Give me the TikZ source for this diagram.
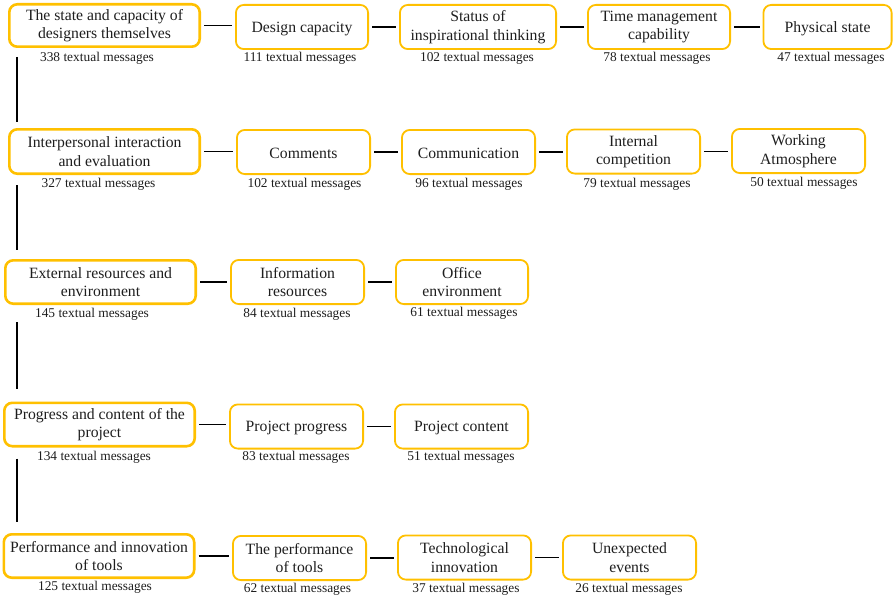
\documentclass[tikz,border=0pt]{standalone}
\usepackage{fontspec}
\setmainfont{Liberation Serif}
\usetikzlibrary{calc}
\definecolor{boxc}{RGB}{255,192,0}
\definecolor{inkc}{RGB}{30,30,30}
\begin{document}
\begin{tikzpicture}[x=1pt,y=-1pt,
  every node/.style={text=inkc},
  box/.style={draw=boxc, rounded corners=8pt, align=center, inner sep=0pt,
    font=\fontsize{15.7}{18.5}\selectfont,
    execute at begin node={\rule{0pt}{13.6pt}}},
  mainbox/.style={box, line width=2.6pt},
  subbox/.style={box, line width=1.8pt},
  cnt/.style={font=\fontsize{13.4}{15}\selectfont, inner sep=0pt},
  hline/.style={draw=black, line width=1.8pt, shorten <=3pt, shorten >=3pt},
  vline/.style={draw=black, line width=2.6pt}]
\useasboundingbox (0,0) rectangle (893,599);
\coordinate (vx) at (17,0);

% ---- Row 1
\node[mainbox, minimum width=190.4pt, minimum height=42.4pt] (M1) at (104.5,25.5) {The state and capacity of\\designers themselves};
\node[subbox, minimum width=132.2pt, minimum height=44.2pt] (A1) at (302,27) {Design capacity};
\node[subbox, minimum width=156.2pt, minimum height=44.2pt] (A2) at (478,27) {Status of\\inspirational thinking};
\node[subbox, minimum width=142.2pt, minimum height=44.2pt] (A3) at (659,27) {Time management\\capability};
\node[subbox, minimum width=128.2pt, minimum height=44.2pt] (A4) at (827.5,27) {Physical state};
\node[cnt] (cM1) at (97,58) {338 textual messages};
\node[cnt] (cA1) at (300,58) {111 textual messages};
\node[cnt] (cA2) at (477,58) {102 textual messages};
\node[cnt] (cA3) at (657,58) {78 textual messages};
\node[cnt] (cA4) at (831,58) {47 textual messages};

% ---- Row 2
\node[mainbox, minimum width=190.4pt, minimum height=44.4pt] (M2) at (104.5,151.5) {Interpersonal interaction\\and evaluation};
\node[subbox, minimum width=133.2pt, minimum height=44.2pt] (B1) at (303.5,152) {Comments};
\node[subbox, minimum width=133.2pt, minimum height=44.2pt] (B2) at (468.5,152) {Communication};
\node[subbox, minimum width=133.2pt, minimum height=44.2pt] (B3) at (633.5,151.5) {Internal\\competition};
\node[subbox, minimum width=133.2pt, minimum height=44.2pt] (B4) at (798.5,151) {Working\\Atmosphere};
\node[cnt] (cM2) at (98.5,184.5) {327 textual messages};
\node[cnt] (cB1) at (304.5,184.5) {102 textual messages};
\node[cnt] (cB2) at (469,184) {96 textual messages};
\node[cnt] (cB3) at (637,184) {79 textual messages};
\node[cnt] (cB4) at (804,183) {50 textual messages};

% ---- Row 3
\node[mainbox, minimum width=190.4pt, minimum height=43.4pt] (M3) at (100.5,282) {External resources and\\environment};
\node[subbox, minimum width=133.2pt, minimum height=44.2pt] (C1) at (297.5,282) {Information\\resources};
\node[subbox, minimum width=132.2pt, minimum height=44.2pt] (C2) at (462,282) {Office\\environment};
\node[cnt] (cM3) at (92,314.5) {145 textual messages};
\node[cnt] (cC1) at (297,314.5) {84 textual messages};
\node[cnt] (cC2) at (464,313.5) {61 textual messages};

% ---- Row 4
\node[mainbox, minimum width=190.4pt, minimum height=43.4pt] (M4) at (99.5,424.5) {Progress and content of the\\project};
\node[subbox, minimum width=133.2pt, minimum height=44.2pt] (D1) at (296.5,426.5) {Project progress};
\node[subbox, minimum width=133.2pt, minimum height=44.2pt] (D2) at (461.5,426.5) {Project content};
\node[cnt] (cM4) at (94,457) {134 textual messages};
\node[cnt] (cD1) at (296,457.5) {83 textual messages};
\node[cnt] (cD2) at (461,457.5) {51 textual messages};

% ---- Row 5
\node[mainbox, minimum width=190.4pt, minimum height=43.4pt] (M5) at (99,556) {Performance and innovation\\of tools};
\node[subbox, minimum width=133.2pt, minimum height=44.2pt] (E1) at (299.5,558) {The performance\\of tools};
\node[subbox, minimum width=133.2pt, minimum height=44.2pt] (E2) at (464.5,557.5) {Technological\\innovation};
\node[subbox, minimum width=133.2pt, minimum height=44.2pt] (E3) at (629.5,557.5) {Unexpected\\events};
\node[cnt] (cM5) at (95,587) {125 textual messages};
\node[cnt] (cE1) at (297.5,589.5) {62 textual messages};
\node[cnt] (cE2) at (466,589.5) {37 textual messages};
\node[cnt] (cE3) at (629,589.5) {26 textual messages};

% ---- horizontal connectors
\foreach \a/\b in {M1/A1,A1/A2,A2/A3,A3/A4,
                   M2/B1,B1/B2,B2/B3,B3/B4,
                   M3/C1,C1/C2,
                   M4/D1,D1/D2,
                   M5/E1,E1/E2,E2/E3}
  \draw[hline] (\a.east) -- (\a.east -| \b.west);

% ---- vertical spine between the main categories
\draw[vline] ($(M1.south -| vx)+(0,9)$) -- ($(M2.north -| vx)+(0,-6)$);
\draw[vline] ($(M2.south -| vx)+(0,10)$) -- ($(M3.north -| vx)+(0,-9)$);
\draw[vline] ($(M3.south -| vx)+(0,17)$) -- ($(M4.north -| vx)+(0,-13)$);
\draw[vline] ($(M4.south -| vx)+(0,11)$) -- ($(M5.north -| vx)+(0,-11)$);
\end{tikzpicture}
\end{document}
